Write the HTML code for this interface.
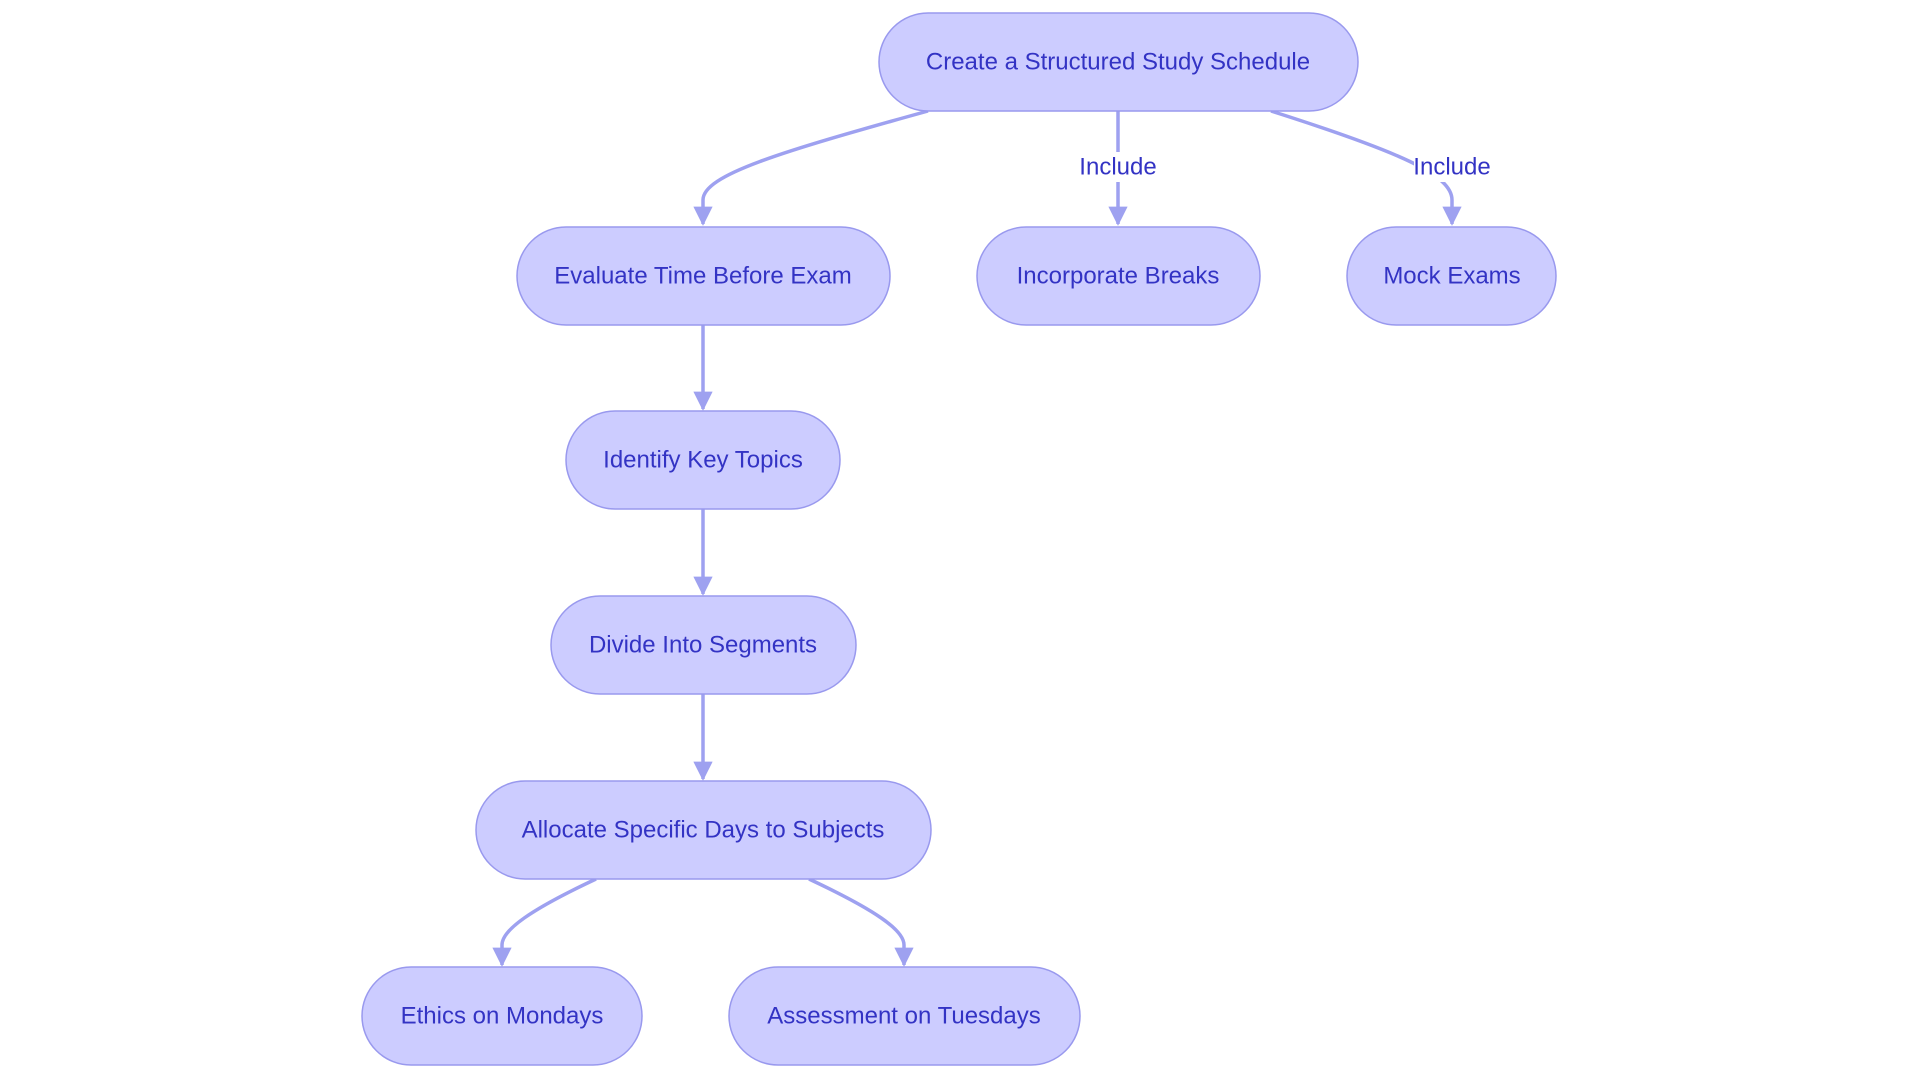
<!DOCTYPE html>
<html><head><style>
html,body{margin:0;padding:0;background:#fff;width:1920px;height:1083px;overflow:hidden}
svg text{font-family:"Liberation Sans",sans-serif;fill:#3333c4;font-size:24px;text-anchor:middle;dominant-baseline:central}
.n{fill:#ccccff;stroke:#9999ee;stroke-width:1.5}
.e{fill:none;stroke:#9ea1f0;stroke-width:3.5}
</style></head><body>
<svg width="1920" height="1083" viewBox="0 0 1920 1083">
<defs><marker id="a" viewBox="0 0 10 10" refX="9" refY="5" markerWidth="5.5" markerHeight="5.5" orient="auto" markerUnits="strokeWidth"><path d="M0,0L10,5L0,10z" fill="#9ea1f0"/></marker></defs>
<path class="e" d="M928,111 C780,152 703,175 703,200 L703,224" marker-end="url(#a)"/>
<path class="e" d="M1118,111 L1118,224" marker-end="url(#a)"/>
<path class="e" d="M1271,111 C1400,152 1452,175 1452,200 L1452,224" marker-end="url(#a)"/>
<path class="e" d="M703,324 L703,409" marker-end="url(#a)"/>
<path class="e" d="M703,509 L703,594" marker-end="url(#a)"/>
<path class="e" d="M703,694 L703,779" marker-end="url(#a)"/>
<path class="e" d="M596,879 C530,910 502,930 502,945 L502,965" marker-end="url(#a)"/>
<path class="e" d="M809,879 C875,910 904,930 904,945 L904,965" marker-end="url(#a)"/>
<rect x="1080" y="152" width="76" height="30" fill="#fff"/>
<rect x="1414" y="152" width="76" height="30" fill="#fff"/>
<text x="1118" y="167">Include</text>
<text x="1452" y="167">Include</text>
<rect class="n" x="879" y="13" width="479" height="98" rx="49"/><text x="1118" y="62">Create a Structured Study Schedule</text>
<rect class="n" x="517" y="227" width="373" height="98" rx="49"/><text x="703" y="276">Evaluate Time Before Exam</text>
<rect class="n" x="977" y="227" width="283" height="98" rx="49"/><text x="1118" y="276">Incorporate Breaks</text>
<rect class="n" x="1347" y="227" width="209" height="98" rx="49"/><text x="1452" y="276">Mock Exams</text>
<rect class="n" x="566" y="411" width="274" height="98" rx="49"/><text x="703" y="460">Identify Key Topics</text>
<rect class="n" x="551" y="596" width="305" height="98" rx="49"/><text x="703" y="645">Divide Into Segments</text>
<rect class="n" x="476" y="781" width="455" height="98" rx="49"/><text x="703" y="830">Allocate Specific Days to Subjects</text>
<rect class="n" x="362" y="967" width="280" height="98" rx="49"/><text x="502" y="1016">Ethics on Mondays</text>
<rect class="n" x="729" y="967" width="351" height="98" rx="49"/><text x="904" y="1016">Assessment on Tuesdays</text>
</svg>
</body></html>
